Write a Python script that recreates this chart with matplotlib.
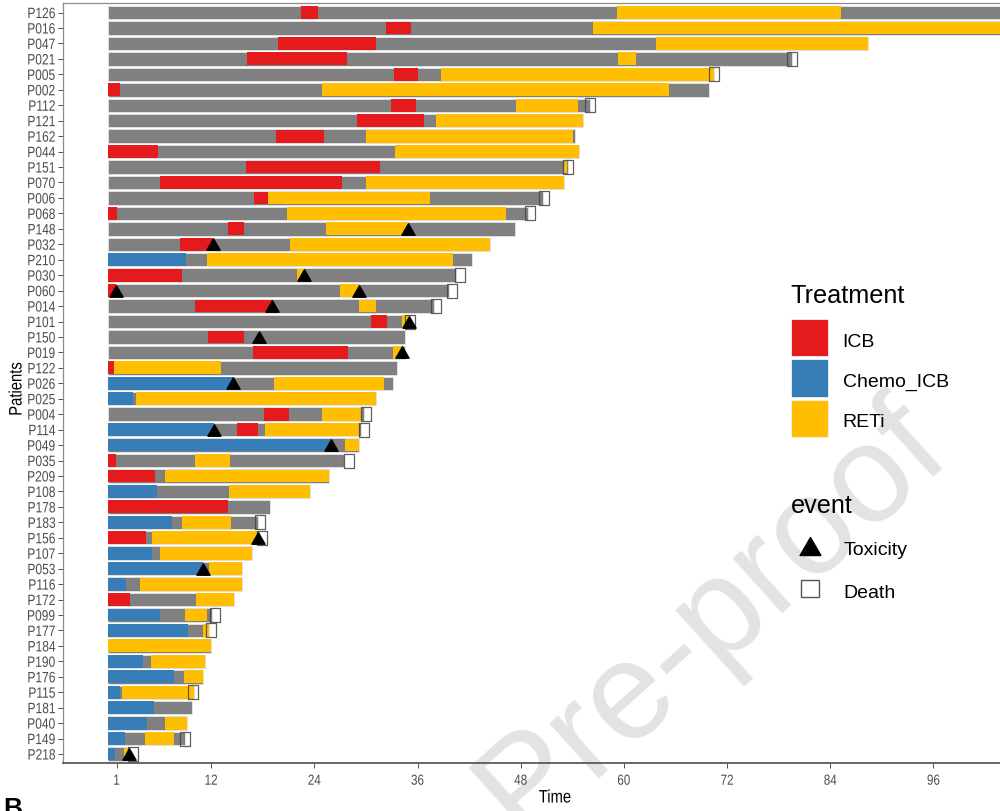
import matplotlib
matplotlib.use("Agg")
import matplotlib.pyplot as plt
from matplotlib import font_manager as fm
from matplotlib.path import Path
from matplotlib.patches import Rectangle
from matplotlib.lines import Line2D
from matplotlib.patheffects import AbstractPathEffect
from matplotlib.transforms import Affine2D

# ---------------- data ----------------
patients = ['P126', 'P016', 'P047', 'P021', 'P005', 'P002', 'P112', 'P121', 'P162', 'P044',
            'P151', 'P070', 'P006', 'P068', 'P148', 'P032', 'P210', 'P030', 'P060', 'P014',
            'P101', 'P150', 'P019', 'P122', 'P026', 'P025', 'P004', 'P114', 'P049', 'P035',
            'P209', 'P108', 'P178', 'P183', 'P156', 'P107', 'P053', 'P116', 'P172', 'P099',
            'P177', 'P184', 'P190', 'P176', 'P115', 'P181', 'P040', 'P149', 'P218']
follow_up = [104.0, 103.9, 88.4, 79.5, 70.5, 69.9, 56.0, 55.2, 54.3, 54.8,
             53.5, 53.0, 50.6, 48.9, 47.3, 44.4, 42.3, 40.5, 39.6, 37.9,
             35.1, 34.5, 34.5, 33.6, 33.1, 31.2, 29.8, 29.4, 29.2, 27.4,
             25.7, 23.5, 18.8, 17.4, 17.6, 16.8, 15.6, 15.6, 14.7, 12.1,
             11.7, 12.0, 11.3, 11.1, 10.0, 9.8, 9.2, 9.0, 2.6]

icb_pat = ['P126', 'P016', 'P047', 'P021', 'P005', 'P002', 'P112', 'P121', 'P162', 'P044',
           'P151', 'P070', 'P006', 'P068', 'P148', 'P032', 'P030', 'P060', 'P014', 'P101',
           'P150', 'P019', 'P122', 'P004', 'P114', 'P035', 'P209', 'P178', 'P156', 'P172']
icb_start = [22.4, 32.3, 19.8, 16.2, 33.3, 0, 32.9, 28.9, 19.5, 0,
             16.0, 6.0, 17.0, 0, 13.9, 8.4, 0, 0, 10.1, 30.6,
             11.6, 16.9, 0, 18.1, 15.0, 0, 0, 0, 0, 0]
icb_end = [24.4, 35.2, 31.2, 27.8, 36.0, 1.4, 35.8, 36.7, 25.1, 5.85,
           31.6, 27.2, 18.6, 1.0, 15.8, 12.2, 8.6, 0.9, 19.1, 32.4,
           15.8, 27.9, 0.7, 21.1, 17.5, 0.9, 5.5, 13.9, 4.4, 2.5]

chemo_pat = ['P210', 'P026', 'P025', 'P114', 'P049', 'P108', 'P183', 'P107', 'P053', 'P116',
             'P099', 'P177', 'P190', 'P176', 'P115', 'P181', 'P040', 'P149', 'P218']
chemo_start = [0] * 19
chemo_end = [9.1, 14.5, 2.9, 12.3, 25.9, 5.7, 7.4, 5.1, 11.0, 2.1,
             6.0, 9.3, 4.1, 7.7, 1.4, 5.3, 4.5, 2.0, 0.8]

reti_pat = ['P126', 'P016', 'P047', 'P021', 'P005', 'P002', 'P112', 'P121', 'P162', 'P044',
            'P151', 'P070', 'P006', 'P068', 'P148', 'P032', 'P210', 'P030', 'P060', 'P014',
            'P101', 'P150', 'P019', 'P122', 'P026', 'P025', 'P004', 'P114', 'P049', 'P035',
            'P209', 'P108', 'P183', 'P156', 'P107', 'P053', 'P116', 'P172', 'P099', 'P177',
            'P184', 'P190', 'P176', 'P115', 'P040', 'P149', 'P218']
reti_start = [59.2, 56.4, 63.7, 59.3, 38.7, 24.9, 47.5, 38.2, 30.0, 33.4,
              53.0, 30.0, 18.6, 20.8, 25.4, 21.2, 11.5, 22.0, 27.0, 29.2,
              34.2, 17.5, 33.2, 0.7, 19.3, 3.2, 24.9, 18.2, 27.6, 10.1,
              6.6, 14.1, 8.6, 5.1, 6.1, 11.8, 3.7, 10.2, 8.9, 11.1,
              0, 5.0, 8.8, 1.6, 6.6, 4.3, 1.9]
reti_end = [85.3, 103.9, 88.4, 61.4, 70.5, 65.2, 54.6, 55.2, 54.1, 54.8,
            53.4, 53.0, 37.4, 46.3, 34.9, 44.4, 40.1, 22.8, 29.2, 31.2,
            35.0, 17.7, 34.2, 13.1, 32.1, 31.2, 29.5, 29.2, 29.2, 14.2,
            25.7, 23.5, 14.3, 17.4, 16.8, 15.6, 15.6, 14.7, 11.5, 11.7,
            12.0, 11.3, 11.1, 10.0, 9.2, 7.7, 2.4]

tox_pat = ['P148', 'P032', 'P030', 'P060', 'P060', 'P014', 'P101', 'P150', 'P019', 'P026',
           'P114', 'P049', 'P156', 'P053', 'P218']
tox_time = [34.9, 12.2, 22.8, 0.9, 29.2, 19.1, 35.0, 17.6, 34.2, 14.5,
            12.3, 25.9, 17.4, 11.0, 2.4]

death_pat = ['P021', 'P005', 'P112', 'P151', 'P006', 'P068', 'P030', 'P060', 'P014', 'P101',
             'P004', 'P114', 'P035', 'P183', 'P156', 'P099', 'P177', 'P115', 'P149', 'P218']
death_time = [79.6, 70.5, 56.1, 53.5, 50.7, 49.1, 40.9, 40.0, 38.2, 35.1,
              30.0, 29.8, 28.0, 17.7, 17.9, 12.4, 12.0, 9.9, 9.0, 2.9]

x_ticks = [1, 12, 24, 36, 48, 60, 72, 84, 96]
treatments = ['ICB', 'Chemo_ICB', 'RETi']
events = ['Toxicity', 'Death']

# ---------------- style ----------------
colors = {'ICB': '#E41A1C', 'Chemo_ICB': '#377EB8', 'RETi': '#FFBF00'}
gray_bar = '#808080'


def pick_font(names):
    for name in names:
        try:
            fm.findfont(fm.FontProperties(family=name), fallback_to_default=False)
            return name
        except Exception:
            continue
    return 'DejaVu Sans'


sans = pick_font(['Liberation Sans', 'Arial', 'DejaVu Sans'])


class Squeeze(AbstractPathEffect):
    """Narrow a text glyph run horizontally, keeping its alignment point fixed."""

    def __init__(self, sx=0.8, anchor='center'):
        super().__init__()
        self.sx = sx
        self.anchor = anchor

    def draw_path(self, renderer, gc, tpath, affine, rgbFace=None):
        pts = affine.transform(tpath.vertices)
        if len(pts) == 0:
            return
        xmin, xmax = pts[:, 0].min(), pts[:, 0].max()
        if self.anchor == 'right':
            x0 = xmax
        elif self.anchor == 'left':
            x0 = xmin
        else:
            x0 = 0.5 * (xmin + xmax)
        new = affine + Affine2D().translate(-x0, 0).scale(self.sx, 1).translate(x0, 0)
        renderer.draw_path(gc, tpath, new, rgbFace)


class SqueezeY(Squeeze):
    """Same as Squeeze but for text rotated by 90 degrees."""

    def draw_path(self, renderer, gc, tpath, affine, rgbFace=None):
        pts = affine.transform(tpath.vertices)
        if len(pts) == 0:
            return
        y0 = 0.5 * (pts[:, 1].min() + pts[:, 1].max())
        new = affine + Affine2D().translate(0, -y0).scale(1, self.sx).translate(0, y0)
        renderer.draw_path(gc, tpath, new, rgbFace)


W, H = 1000, 812
fig = plt.figure(figsize=(W / 100, H / 100), dpi=100)


def fx(px):
    return px / W


def fy(py):
    return 1 - py / H


ax = fig.add_axes([fx(63.3), fy(764.3), fx(1047) - fx(63.3), fy(4.3) - fy(764.3)])
ax.patch.set_alpha(0)

n = len(patients)
ypos = {p: n - 1 - i for i, p in enumerate(patients)}
bar_h = 0.87

# full follow-up as gray, treatment periods on top
ax.barh([ypos[p] for p in patients], follow_up, left=0, height=bar_h,
        color=gray_bar, edgecolor='#e6e6e6', linewidth=0.6, zorder=2)
for name, pats, st, en in [('ICB', icb_pat, icb_start, icb_end),
                           ('Chemo_ICB', chemo_pat, chemo_start, chemo_end),
                           ('RETi', reti_pat, reti_start, reti_end)]:
    ax.barh([ypos[p] for p in pats], [e - s for s, e in zip(st, en)], left=st,
            height=bar_h - 0.04, color=colors[name], linewidth=0, zorder=3)

tri_path = Path([(-0.5, -0.433), (0.5, -0.433), (0, 0.433), (-0.5, -0.433)],
                [Path.MOVETO, Path.LINETO, Path.LINETO, Path.CLOSEPOLY])
rect_path = Path([(-0.35, -0.5), (0.35, -0.5), (0.35, 0.5), (-0.35, 0.5), (-0.35, -0.5)],
                 [Path.MOVETO, Path.LINETO, Path.LINETO, Path.LINETO, Path.CLOSEPOLY])

ax.plot(death_time, [ypos[p] for p in death_pat], linestyle='none', marker=rect_path,
        markersize=9.4, markerfacecolor='none', markeredgecolor='#444444',
        markeredgewidth=0.9, alpha=0.85, zorder=4)
ax.plot(tox_time, [ypos[p] for p in tox_pat], linestyle='none', marker=tri_path,
        markersize=9.5, color='black', zorder=5)

ax.set_xlim(-5.2, 109.2)
ax.set_ylim(-0.6, n - 0.4)
ax.set_yticks(range(n))
ax.set_yticklabels(patients[::-1], family=sans, fontsize=10.8, color='#4d4d4d')
ax.set_xticks(x_ticks)
ax.set_xticklabels([str(t) for t in x_ticks], family=sans, fontsize=10.5, color='#4d4d4d')
ax.tick_params(axis='both', length=3.5, width=0.7, color='#4d4d4d', pad=2)
ax.tick_params(axis='x', pad=4)
for lab in ax.get_yticklabels():
    lab.set_path_effects([Squeeze(0.8, 'right')])
for lab in ax.get_xticklabels():
    lab.set_path_effects([Squeeze(0.8, 'center')])

for side in ['top', 'left']:
    ax.spines[side].set_color('#8c8c8c')
    ax.spines[side].set_linewidth(0.9)
ax.spines['bottom'].set_color('#4d4d4d')
ax.spines['bottom'].set_linewidth(1.2)
ax.spines['right'].set_visible(False)

fig.text(fx(555), fy(799), 'Time', family=sans, fontsize=13, ha='center', va='center',
         path_effects=[Squeeze(0.82, 'center')])
fig.text(fx(17), fy(390), 'Patients', family=sans, fontsize=13, rotation=90,
         ha='center', va='center', path_effects=[SqueezeY(0.82)])

# legends
fig.text(fx(790.7), fy(303.5), 'Treatment', family=sans, fontsize=18.2, ha='left',
         va='baseline')
key_tops = [320, 360.3, 400.6]
for name, top in zip(treatments, key_tops):
    fig.add_artist(Rectangle((fx(790.7), fy(top + 37.2)), fx(37.6), 37.2 / H,
                             transform=fig.transFigure, facecolor=colors[name],
                             edgecolor='#f2f2f2', linewidth=0.6))
    fig.text(fx(842.7), fy(top + 18.6 + 8.2), name, family=sans, fontsize=14,
             ha='left', va='baseline')

fig.text(fx(790.7), fy(513.3), 'event', family=sans, fontsize=18.2, ha='left',
         va='baseline')
fig.add_artist(Line2D([fx(810)], [fy(547)], transform=fig.transFigure, marker=tri_path,
                      markersize=15, color='black', linestyle='none'))
fig.text(fx(843.5), fy(555), events[0], family=sans, fontsize=14, ha='left',
         va='baseline')
fig.add_artist(Rectangle((fx(801), fy(598.3)), fx(18), 17.3 / H, transform=fig.transFigure,
                         facecolor='none', edgecolor='#555555', linewidth=1.0))
fig.text(fx(843.5), fy(598.3), events[1], family=sans, fontsize=14, ha='left',
         va='baseline')

# panel letter and background watermark
fig.text(fx(3), fy(815.5), 'B', family=sans, fontsize=19, fontweight='bold',
         ha='left', va='baseline')
fig.text(fx(712), fy(618), 'Pre-proof', family=sans, fontsize=100, color='#e3e3e3',
         rotation=42, rotation_mode='anchor', ha='center', va='center', zorder=-1)

fig.savefig('out.png', dpi=100)
